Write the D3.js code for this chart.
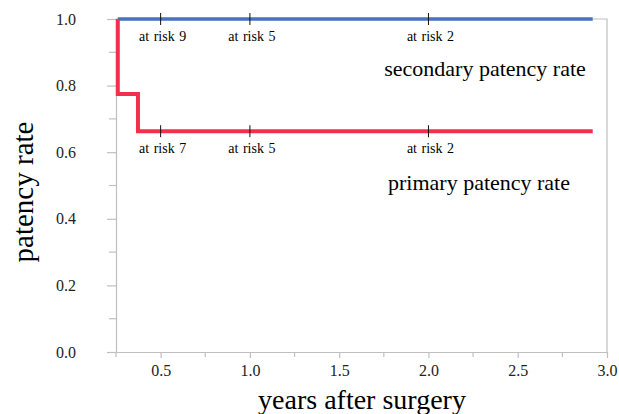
<!DOCTYPE html>
<html>
<head>
<meta charset="utf-8">
<script src="https://cdn.jsdelivr.net/npm/d3@7"></script>
<style>
  body { margin: 0; background: #fff; }
  svg { font-family: "Liberation Serif", "Times New Roman", serif; }
</style>
</head>
<body>
<div id="chart"></div>
<script>
// step data
const secondaryTime = [0.26, 2.92];
const secondaryRate = [1.0, 1.0];
const primaryTime = [0.26, 0.26, 0.373, 2.92];
const primaryRate = [1.0, 0.775, 0.663, 0.663];

const riskTimes = [0.5, 1.0, 2.0];
const secondaryAtRisk = [9, 5, 2];
const primaryAtRisk = [7, 5, 2];

const xTicks = [0.5, 1.0, 1.5, 2.0, 2.5, 3.0];
const xMinor = [0.25, 0.75, 1.25, 1.75, 2.25, 2.75];
const yTicks = [0.0, 0.2, 0.4, 0.6, 0.8, 1.0];
const yMinor = [0.1, 0.3, 0.5, 0.7, 0.9];

const W = 619, H = 414;
const pLeft = 116, pRight = 607, pTop = 19, pBottom = 352;
const axisCol = "#bfbfbf";

const svg = d3.select("#chart").append("svg")
    .attr("width", W).attr("height", H);

const x = d3.scaleLinear().domain([0.25, 3.0]).range([pLeft, pRight]);
const y = d3.scaleLinear().domain([0, 1]).range([pBottom, pTop]);

// frame top/right
svg.append("path")
    .attr("d", `M${pLeft},${pTop}H${pRight}V${pBottom}`)
    .attr("fill", "none").attr("stroke", axisCol).attr("stroke-width", 1.2);

// y axis
const yAxis = svg.append("g")
    .attr("transform", `translate(${pLeft},0)`)
    .call(d3.axisLeft(y).tickValues(yTicks).tickFormat(d3.format(".1f"))
        .tickSize(9).tickSizeOuter(0).tickPadding(31));
yAxis.selectAll(".tick text").attr("font-size", 16).attr("fill", "#222")
    .attr("font-family", "Liberation Serif");
yAxis.append("g").selectAll("line").data(yMinor).enter().append("line")
    .attr("x1", -7).attr("x2", 0)
    .attr("y1", d => y(d)).attr("y2", d => y(d));

// x axis
const xAxis = svg.append("g")
    .attr("transform", `translate(0,${pBottom})`)
    .call(d3.axisBottom(x).tickValues(xTicks).tickFormat(d3.format(".1f"))
        .tickSize(6).tickSizeOuter(0).tickPadding(7));
xAxis.selectAll(".tick text").attr("font-size", 16).attr("fill", "#222")
    .attr("font-family", "Liberation Serif");
xAxis.append("g").selectAll("line").data(xMinor).enter().append("line")
    .attr("x1", d => x(d)).attr("x2", d => x(d))
    .attr("y1", 0).attr("y2", 5);

svg.selectAll(".domain, .tick line").attr("stroke", axisCol).attr("stroke-width", 1.2);
svg.selectAll("g g line").attr("stroke", axisCol).attr("stroke-width", 1.2);

// survival lines
const line = d3.line().curve(d3.curveStepAfter)
    .x(d => x(d[0])).y(d => y(d[1]));

svg.append("path")
    .datum(d3.zip(secondaryTime, secondaryRate))
    .attr("d", line)
    .attr("fill", "none").attr("stroke", "#4472c4").attr("stroke-width", 3.5);

svg.append("path")
    .datum(d3.zip(primaryTime, primaryRate))
    .attr("d", line)
    .attr("fill", "none").attr("stroke", "#f2304c").attr("stroke-width", 4);

// at risk marks
function riskMarks(level, counts) {
    const g = svg.append("g");
    riskTimes.forEach(function(t, i) {
        g.append("line")
            .attr("x1", x(t)).attr("x2", x(t))
            .attr("y1", y(level) - 6).attr("y2", y(level) + 6)
            .attr("stroke", "#111").attr("stroke-width", 1);
        g.append("text")
            .attr("x", x(t) + 2).attr("y", y(level) + 22)
            .attr("text-anchor", "middle")
            .attr("font-size", 14)
            .style("word-spacing", "1px")
            .text("at risk " + counts[i]);
    });
}
riskMarks(1.0, secondaryAtRisk);
riskMarks(0.663, primaryAtRisk);

// series labels
svg.append("text")
    .attr("x", 485).attr("y", 76)
    .attr("text-anchor", "middle").attr("font-size", 22)
    .text("secondary patency rate");
svg.append("text")
    .attr("x", 479).attr("y", 190)
    .attr("text-anchor", "middle").attr("font-size", 22)
    .text("primary patency rate");

// axis titles
svg.append("text")
    .attr("transform", "translate(33,192) rotate(-90)")
    .attr("text-anchor", "middle").attr("font-size", 29)
    .text("patency rate");
svg.append("text")
    .attr("x", 362).attr("y", 409)
    .attr("text-anchor", "middle").attr("font-size", 28)
    .text("years after surgery");
</script>
</body>
</html>
